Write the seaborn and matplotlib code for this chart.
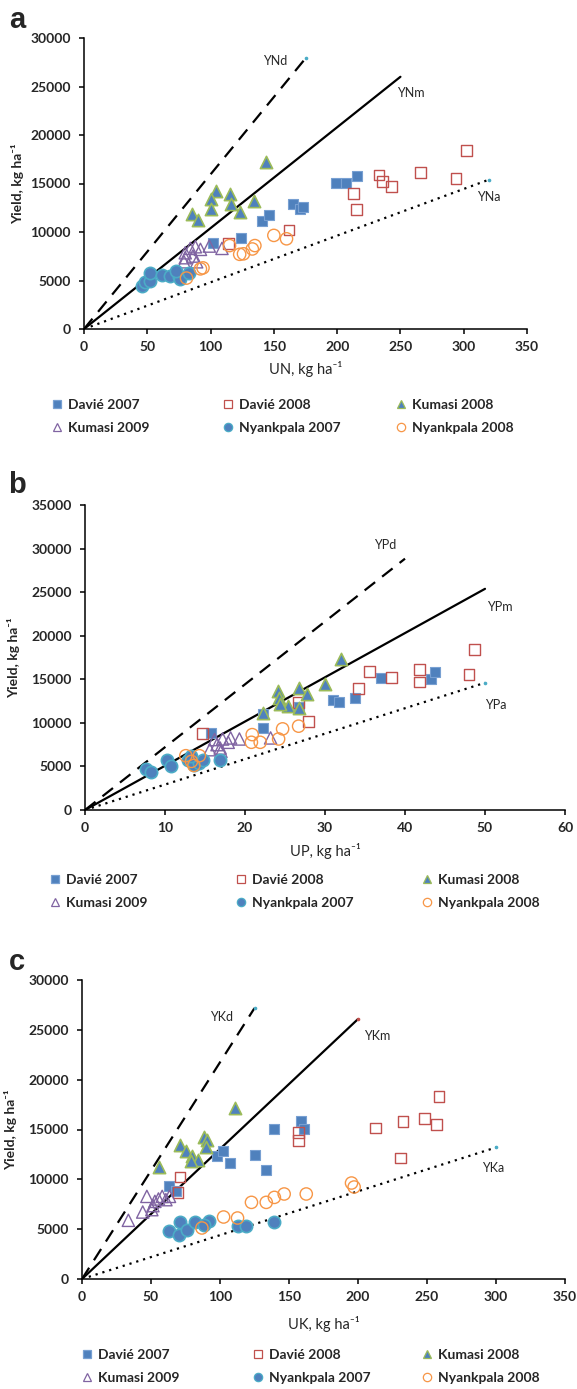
import matplotlib
matplotlib.use("Agg")
import matplotlib.pyplot as plt
import seaborn as sns
from matplotlib.lines import Line2D

sns.set_style("ticks")
plt.rcParams['font.family'] = ['Lato', 'DejaVu Sans']

# ---------------- data ----------------
SERIES = ["Davié 2007", "Davié 2008", "Kumasi 2008", "Kumasi 2009", "Nyankpala 2007", "Nyankpala 2008"]

# Panel a: UN
A_D07_X = [199, 207, 216, 165, 171, 173, 141, 146, 102, 124]
A_D07_Y = [15100, 15100, 15800, 12900, 12400, 12600, 11100, 11800, 8830, 9400]
A_D08_X = [114, 215, 162, 213, 233, 236, 266, 243, 294, 302]
A_D08_Y = [8780, 12290, 10200, 13960, 15870, 15200, 16100, 14670, 15550, 18400]
A_K08_X = [144, 104, 115, 100, 134, 116, 100, 123, 85, 90]
A_K08_Y = [17250, 14250, 13950, 13450, 13200, 12850, 12350, 12050, 11850, 11200]
A_K09_X = [80, 84, 88, 86, 92, 99, 109, 80, 79, 89]
A_K09_Y = [7860, 8310, 8480, 7520, 8210, 8550, 8310, 7350, 6930, 6930]
A_N07_X = [46, 48, 52, 52, 62, 68, 75, 76, 83, 73]
A_N07_Y = [4400, 4800, 5000, 5750, 5600, 5500, 5400, 5200, 5750, 6000]
A_N08_X = [81, 94, 92, 115, 123, 126, 133, 135, 150, 160]
A_N08_Y = [5250, 6300, 6200, 8600, 7700, 7750, 8250, 8600, 9650, 9300]

# Panel b: UP
B_D07_X = [37, 43.2, 43.7, 31, 31.7, 33.7, 22.3, 22.2, 15.8, 26.7]
B_D07_Y = [15190, 15080, 15850, 12580, 12380, 12880, 10960, 9420, 8850, 11850]
B_D08_X = [14.7, 26.7, 27.9, 34.2, 35.6, 38.3, 41.8, 41.8, 48, 48.7]
B_D08_Y = [8770, 12300, 10190, 13960, 15880, 15190, 16150, 14690, 15580, 18460]
B_K08_X = [32, 30, 24.1, 24.2, 26.7, 25.4, 26.7, 27.7, 22.2, 24.4]
B_K08_Y = [17380, 14420, 13650, 12880, 14040, 11920, 11730, 13270, 11150, 12110]
B_K09_X = [15.6, 16.9, 16.2, 17.2, 18.2, 19.3, 23.2, 17, 17.9, 16.5]
B_K09_Y = [6920, 7110, 8080, 8150, 8270, 8150, 8270, 6730, 7770, 7500]
B_N07_X = [7.6, 8.2, 10.3, 10.8, 12.9, 13.6, 14.3, 14.7, 16.9, 13.3]
B_N07_Y = [4690, 4310, 5770, 5000, 5770, 5190, 5380, 5770, 5770, 6150]
B_N08_X = [12.6, 13.6, 14.3, 20.9, 20.8, 21.9, 24.2, 24.7, 26.7, 13.3]
B_N08_Y = [6230, 5110, 6230, 8650, 7770, 7770, 8150, 9310, 9620, 5580]

# Panel c: UK
C_D07_X = [139, 159, 161, 98, 102, 107, 125, 133.5, 63, 68]
C_D07_Y = [15050, 15820, 15050, 12310, 12870, 11640, 12470, 10970, 9360, 8800]
C_D08_X = [69.5, 71, 157, 157, 212.6, 232.6, 231, 248, 257, 258.7]
C_D08_Y = [8690, 10230, 14710, 13910, 15150, 15820, 12140, 16080, 15480, 18320]
C_K08_X = [110.6, 88.2, 90.9, 70.9, 89.5, 75.4, 79.4, 84.2, 78.9, 56]
C_K08_Y = [17150, 14210, 13980, 13480, 13210, 12870, 12370, 11970, 11800, 11240]
C_K09_X = [33.6, 44, 47, 50.6, 52.8, 55.4, 58.1, 60.8, 63.4, 51.4]
C_K09_Y = [5890, 6720, 8290, 6960, 7790, 8030, 8290, 7960, 8290, 7360]
C_N07_X = [63.4, 70.1, 70.9, 76.2, 82, 92.2, 112.7, 118.8, 139.4, 88.7]
C_N07_Y = [4780, 4450, 5680, 4950, 5680, 5850, 5280, 5280, 5680, 5450]
C_N08_X = [86.9, 102.6, 112.7, 122.8, 133.5, 139.4, 146.5, 162.5, 195.3, 197.2]
C_N08_Y = [5120, 6220, 6120, 7690, 7690, 8190, 8530, 8530, 9630, 9230]

# Boundary lines (start at origin)
A_LINES = ["YNd", "YNm", "YNa"]
A_LINE_X = [175, 250, 320]
A_LINE_Y = [27900, 26000, 15400]
B_LINES = ["YPd", "YPm", "YPa"]
B_LINE_X = [40, 50, 50]
B_LINE_Y = [28840, 25380, 14600]
C_LINES = ["YKd", "YKm", "YKa"]
C_LINE_X = [125, 200, 300]
C_LINE_Y = [27180, 26080, 13200]

# ---------------- styles ----------------
BLUE = "#4F81BD"
STYLES = [
    dict(marker="s", s=60, face=BLUE, edge="#78A0D2", lw=0.8),
    dict(marker="s", s=60, face="none", edge="#C0504D", lw=1.0),
    dict(marker="^", s=78, face=BLUE, edge="#9BBB59", lw=1.2),
    dict(marker="^", s=78, face="none", edge="#8064A2", lw=1.0),
    dict(marker="o", s=78, face=BLUE, edge="#4BACC6", lw=1.2),
    dict(marker="o", s=78, face="none", edge="#F79646", lw=1.0),
]
LINE_STYLES = [(0, (6, 4)), "-", (0, (1, 2.2))]

W, H = 577, 1389
fig = plt.figure(figsize=(W / 100, H / 100), dpi=100)


def make_axes(left, right, top, bottom):
    return fig.add_axes([left / W, 1 - bottom / H, (right - left) / W, (bottom - top) / H])


def draw_panel(ax, xs, ys, lnames, lx, ly, label_pos, end_dots, xmax, xstep, ymax, xlabel, xlab_y):
    for name, ex, ey, ls, dot in zip(lnames, lx, ly, LINE_STYLES, end_dots):
        sns.lineplot(x=[0, ex], y=[0, ey], ax=ax, color="black", lw=1.6,
                     linestyle=ls, zorder=2)
        if dot:
            ax.plot([ex], [ey], marker="o", ms=1.6, color=dot, zorder=2)
    for (tx, ty), name in zip(label_pos, lnames):
        ax.text(tx, ty, name, ha="center", va="center", fontsize=9)
    for x, y, st in zip(xs, ys, STYLES):
        sns.scatterplot(x=x, y=y, ax=ax, marker=st["marker"], s=st["s"],
                        color=st["edge"], facecolor=st["face"], edgecolor=st["edge"],
                        linewidth=st["lw"], zorder=3, legend=False)
    ax.set_xlim(0, xmax)
    ax.set_ylim(0, ymax)
    ax.set_xticks(range(0, xmax + 1, xstep))
    ax.set_yticks(range(0, ymax + 1, 5000))
    sns.despine(ax=ax)
    for sp in ("left", "bottom"):
        ax.spines[sp].set_linewidth(1.1)
        ax.spines[sp].set_color("black")
    ax.tick_params(direction="out", length=3.5, width=1.1, color="black", labelsize=10)
    ax.tick_params(axis="y", pad=6)
    ax.tick_params(axis="x", pad=5)
    for t in ax.get_xticklabels() + ax.get_yticklabels():
        t.set_fontweight("bold")
    ax.set_ylabel("Yield, kg ha\u207b\u00b9", fontsize=10, fontweight="bold")
    ax.yaxis.set_label_coords(-0.135, 0.5)
    ax.set_xlabel(xlabel + ", kg ha\u207b\u00b9", fontsize=10.5)
    ax.xaxis.set_label_coords(0.5, xlab_y)


def legend_handles():
    hs = []
    for st in STYLES:
        hs.append(Line2D([], [], linestyle="", marker=st["marker"], markersize=6,
                         markerfacecolor=st["face"], markeredgecolor=st["edge"],
                         markeredgewidth=0.9))
    return hs


def add_legend(col_x, row1, row2):
    hs = legend_handles()
    yc = 1 - ((row1 + row2) / 2) / H
    for i, cx in enumerate(col_x):
        idx = [i, i + 3]
        fig.legend([hs[j] for j in idx], [SERIES[j] for j in idx],
                   loc="center left", bbox_to_anchor=((cx - 4.9) / W, yc),
                   frameon=False, borderpad=0, borderaxespad=0,
                   handlelength=0.7, handletextpad=0.45, labelspacing=0.75,
                   prop=dict(weight="bold", size=10))


CYAN = "#4BACC6"

# Panel a
axa = make_axes(84, 527, 38, 329)
draw_panel(axa,
           [A_D07_X, A_D08_X, A_K08_X, A_K09_X, A_N07_X, A_N08_X],
           [A_D07_Y, A_D08_Y, A_K08_Y, A_K09_Y, A_N07_Y, A_N08_Y],
           A_LINES, A_LINE_X, A_LINE_Y,
           [(151, 27600), (258, 24300), (320, 13600)],
           [CYAN, None, CYAN],
           350, 50, 30000, "UN", -0.11)
add_legend([57, 228, 401], 403, 430)

# Panel b
axb = make_axes(85, 565, 505, 810)
draw_panel(axb,
           [B_D07_X, B_D08_X, B_K08_X, B_K09_X, B_N07_X, B_N08_X],
           [B_D07_Y, B_D08_Y, B_K08_Y, B_K09_Y, B_N07_Y, B_N08_Y],
           B_LINES, B_LINE_X, B_LINE_Y,
           [(37.5, 30400), (51.9, 23300), (51.3, 12050)],
           [None, None, CYAN],
           60, 10, 35000, "UP", -0.108)
add_legend([55, 241, 427], 878, 905)

# Panel c
axc = make_axes(82, 565, 980, 1279)
draw_panel(axc,
           [C_D07_X, C_D08_X, C_K08_X, C_K09_X, C_N07_X, C_N08_X],
           [C_D07_Y, C_D08_Y, C_K08_Y, C_K09_Y, C_N07_Y, C_N08_Y],
           C_LINES, C_LINE_X, C_LINE_Y,
           [(101, 26300), (214, 24400), (298, 11100)],
           [CYAN, "#C0504D", CYAN],
           350, 50, 30000, "UK", -0.124)
add_legend([87, 258, 427], 1353, 1380)

for letter, y in (("a", 20), ("b", 485), ("c", 962)):
    fig.text(17 / W, 1 - y / H, letter, fontsize=21, fontweight="bold",
             family=["Liberation Sans", "DejaVu Sans"], ha="center", va="center")

fig.savefig("out.png", dpi=100)
